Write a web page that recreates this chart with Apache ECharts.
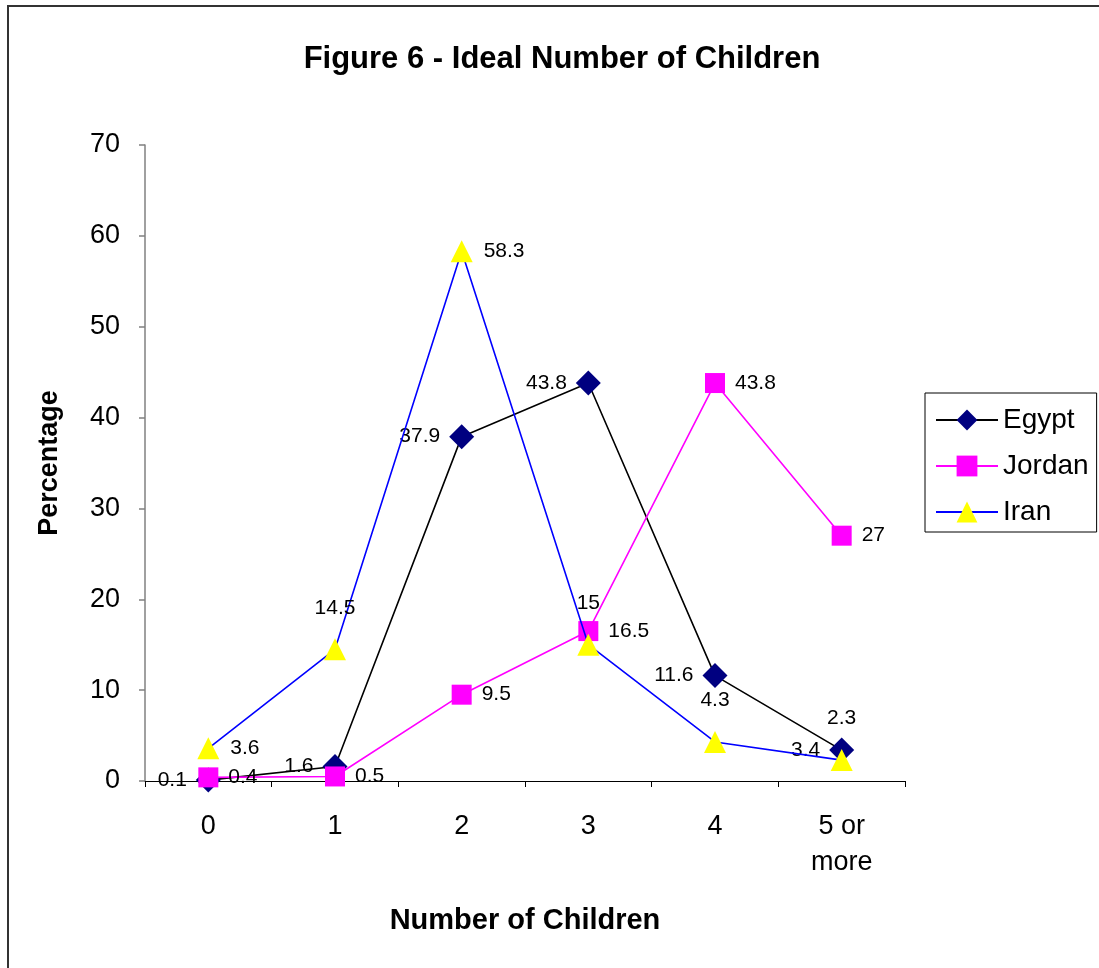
<!DOCTYPE html>
<html>
<head>
<meta charset="utf-8">
<script src="https://cdn.jsdelivr.net/npm/echarts@6/dist/echarts.min.js"></script>
<style>
html,body{margin:0;padding:0;background:#fff;}
#frame{position:absolute;left:7px;top:5px;width:1100px;height:970px;border:2px solid #333;box-sizing:border-box;}
#chart{position:absolute;left:0;top:0;width:1099px;height:968px;}
</style>
</head>
<body>
<div id="frame"></div>
<div id="chart"></div>
<script>
const categories = ['0', '1', '2', '3', '4', '5 or\nmore'];
const egypt = [0.1, 1.6, 37.9, 43.8, 11.6, 3.4];
const jordan = [0.4, 0.5, 9.5, 16.5, 43.8, 27];
const iran = [3.6, 14.5, 58.3, 15, 4.3, 2.3];
const yTicks = [0, 10, 20, 30, 40, 50, 60, 70];

const font = 'Liberation Sans, Arial, sans-serif';
const lbl = {show: true, fontFamily: font, fontSize: 21, color: '#000'};

const chart = echarts.init(document.getElementById('chart'), null, {renderer: 'canvas'});
chart.setOption({
  backgroundColor: 'transparent',
  animation: false,
  title: {
    text: 'Figure 6 - Ideal Number of Children',
    left: 557, top: 39, textAlign: 'center',
    textStyle: {fontFamily: font, fontSize: 31, fontWeight: 'bold', color: '#000'}
  },
  legend: {
    orient: 'vertical',
    left: 925, top: 393,
    padding: [13, 8, 6, 10],
    borderColor: '#000', borderWidth: 1,
    itemWidth: 62, itemHeight: 26, itemGap: 18,
    textStyle: {fontFamily: font, fontSize: 28, lineHeight: 28, color: '#000'},
    data: ['Egypt', 'Jordan', 'Iran']
  },
  grid: {left: 145, right: 194, top: 145, bottom: 187, containLabel: false},
  xAxis: {
    type: 'category',
    data: categories,
    boundaryGap: true,
    name: 'Number of Children',
    nameLocation: 'middle',
    nameGap: 125,
    nameTextStyle: {fontFamily: font, fontSize: 29, fontWeight: 'bold', color: '#000'},
    axisLine: {lineStyle: {color: '#000', width: 1}},
    axisTick: {show: true, length: 6, lineStyle: {color: '#000'}},
    axisLabel: {fontFamily: font, fontSize: 27, color: '#000', margin: 28, lineHeight: 36}
  },
  yAxis: {
    type: 'value',
    min: 0, max: 70, interval: 10,
    name: 'Percentage',
    nameLocation: 'middle',
    nameGap: 82,
    nameRotate: 90,
    nameTextStyle: {fontFamily: font, fontSize: 27, fontWeight: 'bold', color: '#000'},
    splitLine: {show: false},
    axisLine: {show: true, lineStyle: {color: '#808080', width: 1.5}},
    axisTick: {show: true, length: 6, lineStyle: {color: '#808080', width: 1.5}},
    axisLabel: {fontFamily: font, fontSize: 27, color: '#000', margin: 25,
      formatter: v => yTicks.includes(v) ? String(v) : ''}
  },
  series: [
    {
      name: 'Egypt', type: 'line', data: egypt,
      symbol: 'diamond', symbolSize: 25,
      itemStyle: {color: '#000080'},
      lineStyle: {color: '#000', width: 1.6},
      label: Object.assign({}, lbl, {position: 'left', distance: 9}),
      z: 3
    },
    {
      name: 'Jordan', type: 'line', data: jordan,
      symbol: 'rect', symbolSize: 20,
      itemStyle: {color: '#ff00ff'},
      lineStyle: {color: '#ff00ff', width: 1.6},
      label: Object.assign({}, lbl, {position: 'right', distance: 10}),
      z: 4
    },
    {
      name: 'Iran', type: 'line',
      data: iran.map((v, i) => (i === 0 || i === 2)
        ? {value: v, label: {position: 'right', distance: 11}}
        : v),
      symbol: 'triangle', symbolSize: 22,
      itemStyle: {color: '#ffff00'},
      lineStyle: {color: '#0000ff', width: 1.6},
      label: Object.assign({}, lbl, {position: 'top', distance: 20}),
      z: 5
    }
  ]
});
</script>
</body>
</html>
